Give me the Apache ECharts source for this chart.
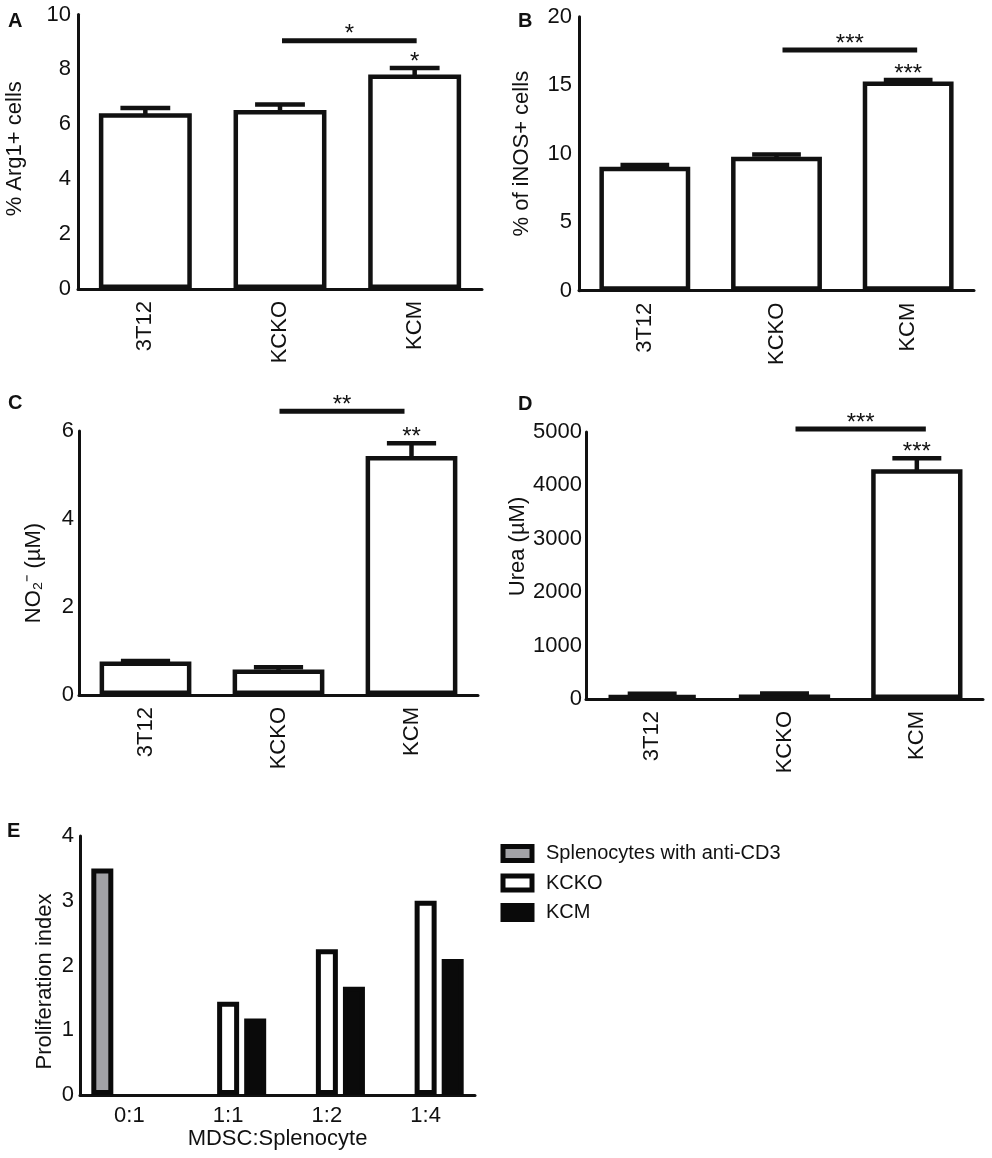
<!DOCTYPE html>
<html><head><meta charset="utf-8">
<script src="https://cdn.jsdelivr.net/npm/echarts@6/dist/echarts.min.js"></script>
<style>html,body{margin:0;padding:0;background:#fff}#c{width:992px;height:1158px}</style>
</head><body><div id="c"></div>
<script>
// ---- data ----
const groups = ['3T12', 'KCKO', 'KCM'];
const arg1Mean = [6.40, 6.52, 7.81];
const arg1Upper = [6.59, 6.72, 8.05];
const inosMean = [9.05, 9.78, 15.27];
const inosUpper = [9.17, 9.94, 15.38];
const no2Mean = [0.76, 0.58, 5.43];
const no2Upper = [0.77, 0.63, 5.72];
const ureaMean = [75, 85, 4302];
const ureaUpper = [100, 105, 4508];
const sigLevel = [9.04, 17.57, 6.45, 5056];
const sigStars = ['*', '***', '**', '***'];
const yMax = [10, 20, 6, 5000, 4];
const yStep = [2, 5, 2, 1000, 1];
const yTitles = ['% Arg1+ cells', '% of iNOS+ cells', 'NO\u2082\u207B (\u00B5M)', 'Urea (\u00B5M)', 'Proliferation index'];
const ratios = ['0:1', '1:1', '1:2', '1:4'];
const antiCD3 = [3.50, '-', '-', '-'];
const kckoProlif = ['-', 1.44, 2.25, 3.00];
const kcmProlif = ['-', 1.18, 1.67, 2.10];
const panelLetters = ['A', 'B', 'C', 'D', 'E'];

// ---- layout / style ----
const FONT = 'Liberation Sans, Arial, sans-serif';
const INK = '#111';
const grids = [
  { left: 78, top: 14.5, width: 404, height: 274.5 },
  { left: 579, top: 16.7, width: 395, height: 274 },
  { left: 79, top: 431, width: 399, height: 264 },
  { left: 586, top: 432, width: 397, height: 267 },
  { left: 80, top: 836, width: 395, height: 259 }
];
const nameGaps = [52, 46, 34, 55, 24];
const namePads = [[0, 0, 0, 6], [0, 0, 0, 0], [0, 20, 0, 0], [0, 0, 0, 38], [0, 32, 0, 0]];
const labelMargins = [7, 7, 5, 4, 6];
const sigShift = [[2, 2], [6, 9], [1, -7], [11, 9]];
const letterPos = [[8, 21.5], [518, 21.5], [8, 403.5], [518, 404.5], [7, 831]];

const means = [arg1Mean, inosMean, no2Mean, ureaMean];
const uppers = [arg1Upper, inosUpper, no2Upper, ureaUpper];

const xAxes = [], yAxes = [], series = [];
for (let p = 0; p < 5; p++) {
  const isE = p === 4;
  xAxes.push({
    type: 'category', gridIndex: p, data: isE ? ratios : groups,
    axisTick: { show: false },
    axisLine: { lineStyle: { color: INK, width: 3 } },
    axisLabel: isE
      ? { color: INK, fontSize: 22, fontFamily: FONT, margin: 10, interval: 0 }
      : { color: INK, fontSize: 22, fontFamily: FONT, rotate: 90, margin: 12, interval: 0 },
    name: isE ? 'MDSC:Splenocyte' : '',
    nameLocation: 'middle', nameGap: 32,
    nameTextStyle: { color: INK, fontSize: 22, fontFamily: FONT }
  });
  yAxes.push({
    type: 'value', gridIndex: p, min: 0, max: yMax[p], interval: yStep[p],
    splitLine: { show: false }, axisTick: { show: false },
    axisLine: { show: true, lineStyle: { color: INK, width: 3 } },
    axisLabel: { color: INK, fontSize: 22, fontFamily: FONT, margin: labelMargins[p], formatter: v => String(v) },
    name: yTitles[p], nameLocation: 'middle', nameRotate: 90, nameGap: nameGaps[p],
    nameTextStyle: { color: INK, fontSize: 22, fontFamily: FONT, padding: namePads[p] }
  });
}

for (let p = 0; p < 4; p++) {
  const m = means[p], u = uppers[p];
  series.push({
    type: 'bar', name: yTitles[p], xAxisIndex: p, yAxisIndex: p,
    data: m, barWidth: '69%',
    itemStyle: { color: '#fff', borderColor: INK, borderWidth: 4.5 },
    emphasis: { disabled: true }, z: 2
  });
  series.push({
    type: 'custom', name: 'err' + p, xAxisIndex: p, yAxisIndex: p, z: 3,
    data: m.map((v, i) => [i, v, u[i]]),
    renderItem: function (params, api) {
      const base = api.coord([api.value(0), api.value(1)]);
      const top = api.coord([api.value(0), api.value(2)]);
      const half = api.size([1, 0])[0] * 0.185;
      const st = { stroke: INK, lineWidth: 4.5 };
      return { type: 'group', children: [
        { type: 'line', shape: { x1: base[0], y1: base[1] + 2, x2: top[0], y2: top[1] }, style: st },
        { type: 'line', shape: { x1: top[0] - half, y1: top[1], x2: top[0] + half, y2: top[1] }, style: st }
      ] };
    }
  });
  series.push({
    type: 'custom', name: 'sig' + p, xAxisIndex: p, yAxisIndex: p, z: 4,
    data: [[1, sigLevel[p]]],
    renderItem: function (params, api) {
      const a = api.coord([1, api.value(1)]);
      const b = api.coord([2, api.value(1)]);
      const c = api.coord([2, u[2]]);
      const x1 = a[0] + sigShift[p][0], x2 = b[0] + sigShift[p][1];
      const ts = (x, y) => ({ type: 'text', style: { text: sigStars[p], x: x, y: y, fill: INK, font: '24px ' + FONT, align: 'center', verticalAlign: 'middle' } });
      return { type: 'group', children: [
        { type: 'line', shape: { x1: x1, y1: a[1], x2: x2, y2: b[1] }, style: { stroke: INK, lineWidth: 5 } },
        ts((x1 + x2) / 2, a[1] - 6),
        ts(c[0], c[1] - 6)
      ] };
    }
  });
}

const eSeries = [
  { name: 'Splenocytes with anti-CD3', data: antiCD3, color: '#a2a2a6' },
  { name: 'KCKO', data: kckoProlif, color: '#ffffff' },
  { name: 'KCM', data: kcmProlif, color: '#0a0a0a' }
];
eSeries.forEach(s => {
  series.push({
    type: 'bar', name: s.name, xAxisIndex: 4, yAxisIndex: 4, data: s.data,
    barWidth: 22, barGap: '23%',
    itemStyle: { color: s.color, borderColor: '#0a0a0a', borderWidth: 5 },
    emphasis: { disabled: true }
  });
});

const graphics = panelLetters.map((t, i) => ({
  type: 'text', left: letterPos[i][0], top: letterPos[i][1] - 10,
  style: { text: t, fill: INK, font: 'bold 20px ' + FONT }
}));

const chart = echarts.init(document.getElementById('c'), null, { renderer: 'canvas' });
chart.setOption({
  animation: false,
  backgroundColor: '#fff',
  grid: grids.map(g => Object.assign({ containLabel: false }, g)),
  xAxis: xAxes,
  yAxis: yAxes,
  legend: {
    orient: 'vertical', left: 500.5, top: 843.5, icon: 'rect', padding: 0,
    itemWidth: 29, itemHeight: 14, itemGap: 9.5,
    selectedMode: false,
    itemStyle: { borderWidth: 5, borderColor: '#0a0a0a' },
    textStyle: { color: INK, fontSize: 20, fontFamily: FONT, padding: [0, 0, 0, 9] },
    data: eSeries.map(s => s.name)
  },
  graphic: graphics,
  series: series
});
</script></body></html>
